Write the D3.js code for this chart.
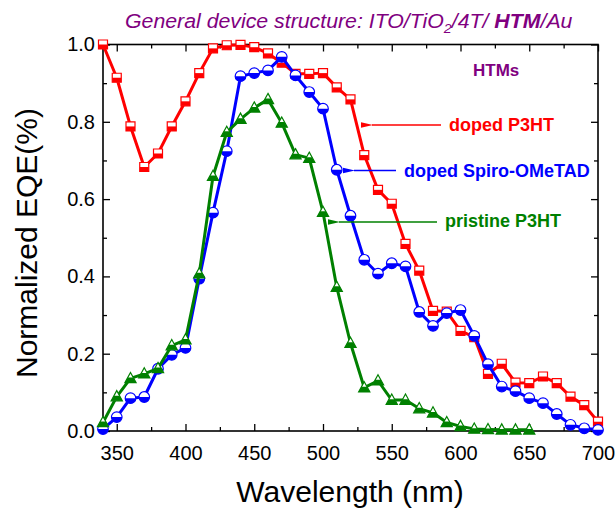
<!DOCTYPE html>
<html>
<head>
<meta charset="utf-8">
<script src="https://cdn.jsdelivr.net/npm/d3@7"></script>
<style>
  body { margin: 0; background: #fff; }
  svg { display: block; font-family: "Liberation Sans", Arial, sans-serif; }
</style>
</head>
<body>
<div id="chart"></div>
<script>
// wavelengths (nm)
const wavelengths = [340, 350, 360, 370, 380, 390, 400, 410, 420, 430, 440, 450, 460, 470, 480, 490,
  500, 510, 520, 530, 540, 550, 560, 570, 580, 590, 600, 610, 620, 630, 640, 650, 660, 670, 680, 690, 700];

const dopedP3HT = [1.000, 0.914, 0.788, 0.683, 0.718, 0.788, 0.853, 0.926, 0.990, 0.998, 0.999, 0.993, 0.977, 0.953, 0.924, 0.924,
  0.926, 0.889, 0.858, 0.714, 0.624, 0.588, 0.484, 0.415, 0.311, 0.309, 0.259, 0.243, 0.148, 0.174, 0.125, 0.124, 0.141, 0.124, 0.089, 0.067, 0.024];

const dopedSpiro = [0.005, 0.036, 0.085, 0.088, 0.161, 0.197, 0.215, 0.394, 0.565, 0.724, 0.918, 0.926, 0.933, 0.968, 0.920, 0.877,
  0.834, 0.676, 0.557, 0.443, 0.407, 0.434, 0.426, 0.308, 0.272, 0.305, 0.313, 0.246, 0.173, 0.115, 0.103, 0.085, 0.072, 0.044, 0.016, 0.007, 0.003];

const pristineP3HT = [0.022, 0.089, 0.136, 0.148, 0.162, 0.221, 0.236, 0.407, 0.659, 0.773, 0.807, 0.836, 0.858, 0.797, 0.715, 0.706,
  0.566, 0.372, 0.227, 0.112, 0.130, 0.080, 0.080, 0.058, 0.047, 0.022, 0.012, 0.005, 0.004, 0.003, 0.003, 0.003];

const xMajorTicks = [350, 400, 450, 500, 550, 600, 650, 700];
const xMinorTicks = [375, 425, 475, 525, 575, 625, 675];
const yMajorTicks = [0.0, 0.2, 0.4, 0.6, 0.8, 1.0];
const yMinorTicks = [0.1, 0.3, 0.5, 0.7, 0.9];

const series = [
  { name: 'doped P3HT', values: dopedP3HT, color: '#ff0000', marker: 'square' },
  { name: 'doped Spiro-OMeTAD', values: dopedSpiro, color: '#0000ff', marker: 'circle' },
  { name: 'pristine P3HT', values: pristineP3HT, color: '#008000', marker: 'triangle' }
];

const W = 616, H = 508;
const margin = { top: 44.5, right: 18, bottom: 77, left: 103 };
const width = W - margin.left - margin.right;
const height = H - margin.top - margin.bottom;

const svg = d3.select('#chart')
  .append('svg')
    .attr('width', W)
    .attr('height', H);

const graph = svg.append('g')
    .attr('transform', `translate(${margin.left}, ${margin.top})`);

const x = d3.scaleLinear().domain([340, 700]).range([0, width]);
const y = d3.scaleLinear().domain([0, 1]).range([height, 0]);

// axes: ticks point inward, labels only on bottom and left
const fmtY = d3.format('.1f');
const addAxis = (axis, transform) => {
  const g = graph.append('g').attr('transform', transform).call(axis);
  g.select('.domain').remove();
  g.selectAll('line').attr('stroke', '#000').attr('stroke-width', 1.3);
  g.selectAll('text').attr('font-size', 20).attr('fill', '#000');
  return g;
};

addAxis(d3.axisBottom(x).tickValues(xMajorTicks).tickSizeInner(-7).tickPadding(15), `translate(0, ${height})`);
addAxis(d3.axisBottom(x).tickValues(xMinorTicks).tickSizeInner(-4).tickFormat(''), `translate(0, ${height})`);
addAxis(d3.axisTop(x).tickValues(xMajorTicks).tickSizeInner(-7).tickFormat(''), 'translate(0, 0)');
addAxis(d3.axisTop(x).tickValues(xMinorTicks).tickSizeInner(-4).tickFormat(''), 'translate(0, 0)');
addAxis(d3.axisLeft(y).tickValues(yMajorTicks).tickSizeInner(-7).tickPadding(8).tickFormat(fmtY), 'translate(0, 0)');
addAxis(d3.axisLeft(y).tickValues(yMinorTicks).tickSizeInner(-4).tickFormat(''), 'translate(0, 0)');
addAxis(d3.axisRight(y).tickValues(yMajorTicks).tickSizeInner(-7).tickFormat(''), `translate(${width}, 0)`);
addAxis(d3.axisRight(y).tickValues(yMinorTicks).tickSizeInner(-4).tickFormat(''), `translate(${width}, 0)`);

graph.append('rect')
    .attr('width', width)
    .attr('height', height)
    .attr('fill', 'none')
    .attr('stroke', '#000')
    .attr('stroke-width', 1.6);

// lines + half-filled markers (top half white, bottom half coloured)
const line = d3.line().x(d => x(d.w)).y(d => y(d.v));

const markerPaths = {
  square: { full: 'M-4.5,-4.5H4.5V4.5H-4.5Z', half: 'M-4.5,0H4.5V4.5H-4.5Z' },
  circle: { full: 'M-5.3,0A5.3,5.3 0 1,1 5.3,0A5.3,5.3 0 1,1 -5.3,0Z', half: 'M-5.3,0A5.3,5.3 0 0,0 5.3,0Z' },
  triangle: { full: 'M0,-6L5.6,4.2H-5.6Z', half: 'M-2.8,-0.9L2.8,-0.9L5.6,4.2H-5.6Z' }
};

series.forEach(s => {
  const pts = s.values.map((v, i) => ({ w: wavelengths[i], v: v }));
  const g = graph.append('g');

  g.append('path')
      .datum(pts)
      .attr('d', line)
      .attr('fill', 'none')
      .attr('stroke', s.color)
      .attr('stroke-width', 3)
      .attr('stroke-linejoin', 'round');

  const m = g.selectAll('.marker')
      .data(pts)
    .enter().append('g')
      .attr('class', 'marker')
      .attr('transform', d => `translate(${x(d.w)}, ${y(d.v)})`);

  m.append('path')
      .attr('d', markerPaths[s.marker].full)
      .attr('fill', '#fff')
      .attr('stroke', s.color)
      .attr('stroke-width', 1.2);
  m.append('path')
      .attr('d', markerPaths[s.marker].half)
      .attr('fill', s.color);
});

// annotations with arrows
const defs = svg.append('defs');
series.forEach((s, i) => {
  defs.append('marker')
      .attr('id', 'arrow' + i)
      .attr('viewBox', '0 0 12 8')
      .attr('refX', 1)
      .attr('refY', 4)
      .attr('markerWidth', 12)
      .attr('markerHeight', 8)
      .attr('markerUnits', 'userSpaceOnUse')
      .attr('orient', 'auto-start-reverse')
    .append('path')
      .attr('d', 'M0,4L12,1.2L12,6.8Z')
      .attr('fill', s.color);
});

const notes = [
  { text: 'doped P3HT', x1: 441, x2: 362, ya: 125, tx: 449, ty: 131 },
  { text: 'doped Spiro-OMeTAD', x1: 396, x2: 344, ya: 170.5, tx: 404, ty: 177 },
  { text: 'pristine P3HT', x1: 437, x2: 329, ya: 222, tx: 445, ty: 227 }
];

notes.forEach((n, i) => {
  svg.append('line')
      .attr('x1', n.x1).attr('y1', n.ya)
      .attr('x2', n.x2 + 10).attr('y2', n.ya)
      .attr('stroke', series[i].color)
      .attr('stroke-width', 1.3)
      .attr('marker-end', `url(#arrow${i})`);
  svg.append('text')
      .attr('x', n.tx)
      .attr('y', n.ty)
      .attr('font-size', 18)
      .attr('font-weight', 'bold')
      .attr('fill', series[i].color)
      .text(n.text);
});

svg.append('text')
    .attr('x', 473)
    .attr('y', 76)
    .attr('font-size', 17)
    .attr('font-weight', 'bold')
    .attr('fill', '#800080')
    .text('HTMs');

// title, stretched to the width it has in the original figure
const title = svg.append('text')
    .attr('x', 125)
    .attr('y', 28)
    .attr('font-size', 19.5)
    .attr('font-style', 'italic')
    .attr('fill', '#800080');
title.append('tspan').text('General device structure: ITO/TiO');
title.append('tspan').attr('font-size', 13).attr('dy', 5).text('2');
title.append('tspan').attr('dy', -5).text('/4T/ ');
title.append('tspan').attr('font-weight', 'bold').text('HTM');
title.append('tspan').text('/Au');
const tw = title.node().getBBox().width;
title.attr('transform', `translate(125, 0) scale(${448 / tw}, 1) translate(-125, 0)`);

// axis titles
svg.append('text')
    .attr('x', 350)
    .attr('y', 502)
    .attr('text-anchor', 'middle')
    .attr('font-size', 30)
    .text('Wavelength (nm)');

svg.append('text')
    .attr('transform', 'rotate(-90)')
    .attr('x', -243)
    .attr('y', 37)
    .attr('text-anchor', 'middle')
    .attr('font-size', 30)
    .text('Normalized EQE(%)');
</script>
</body>
</html>
